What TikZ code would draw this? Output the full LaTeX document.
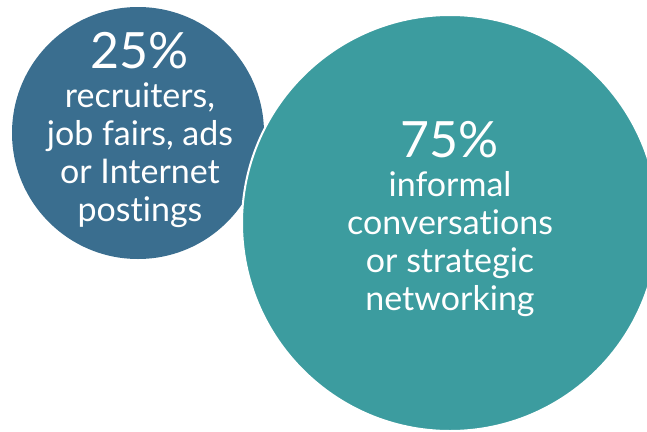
\documentclass[tikz,border=0pt]{standalone}
\usepackage{fontspec}
\setmainfont{Lato}[RawFeature={-liga;-clig;-calt;-dlig}]
\definecolor{jobblue}{HTML}{3A6E8F}
\definecolor{jobteal}{HTML}{3C9C9F}
\tikzset{
	pct/.style={text=white, anchor=base, font=\fontsize{50}{50}\selectfont},
	reason/.style={text=white, anchor=base, align=center, font=\fontsize{34}{38}\selectfont}
}

\begin{document}
\begin{tikzpicture}[x=1pt, y=-1pt]
			%%%%% START %%%%%
			
			\useasboundingbox (0, 0) rectangle (647, 431);
			
			\fill[jobblue] (138, 133) circle (126);
			\node[pct] (smallpct) at (140, 68) {25\%};
			\node[reason] (smalltext) at (140, 221) {recruiters,\\job fairs, ads\\or Internet\\postings};
			
			\begin{scope}
			\clip (0, 0) rectangle (647, 431);
			\draw[fill=jobteal, draw=white, line width=2pt] (450, 223) circle (208);
			\end{scope}
			\node[pct] (bigpct) at (450, 157) {75\%};
			\node[reason] (bigtext) at (450, 310) {informal\\conversat\kern0pt ions\\or strategic\\networking};
			
			%%%%% END %%%%%
		\end{tikzpicture}
\end{document}
